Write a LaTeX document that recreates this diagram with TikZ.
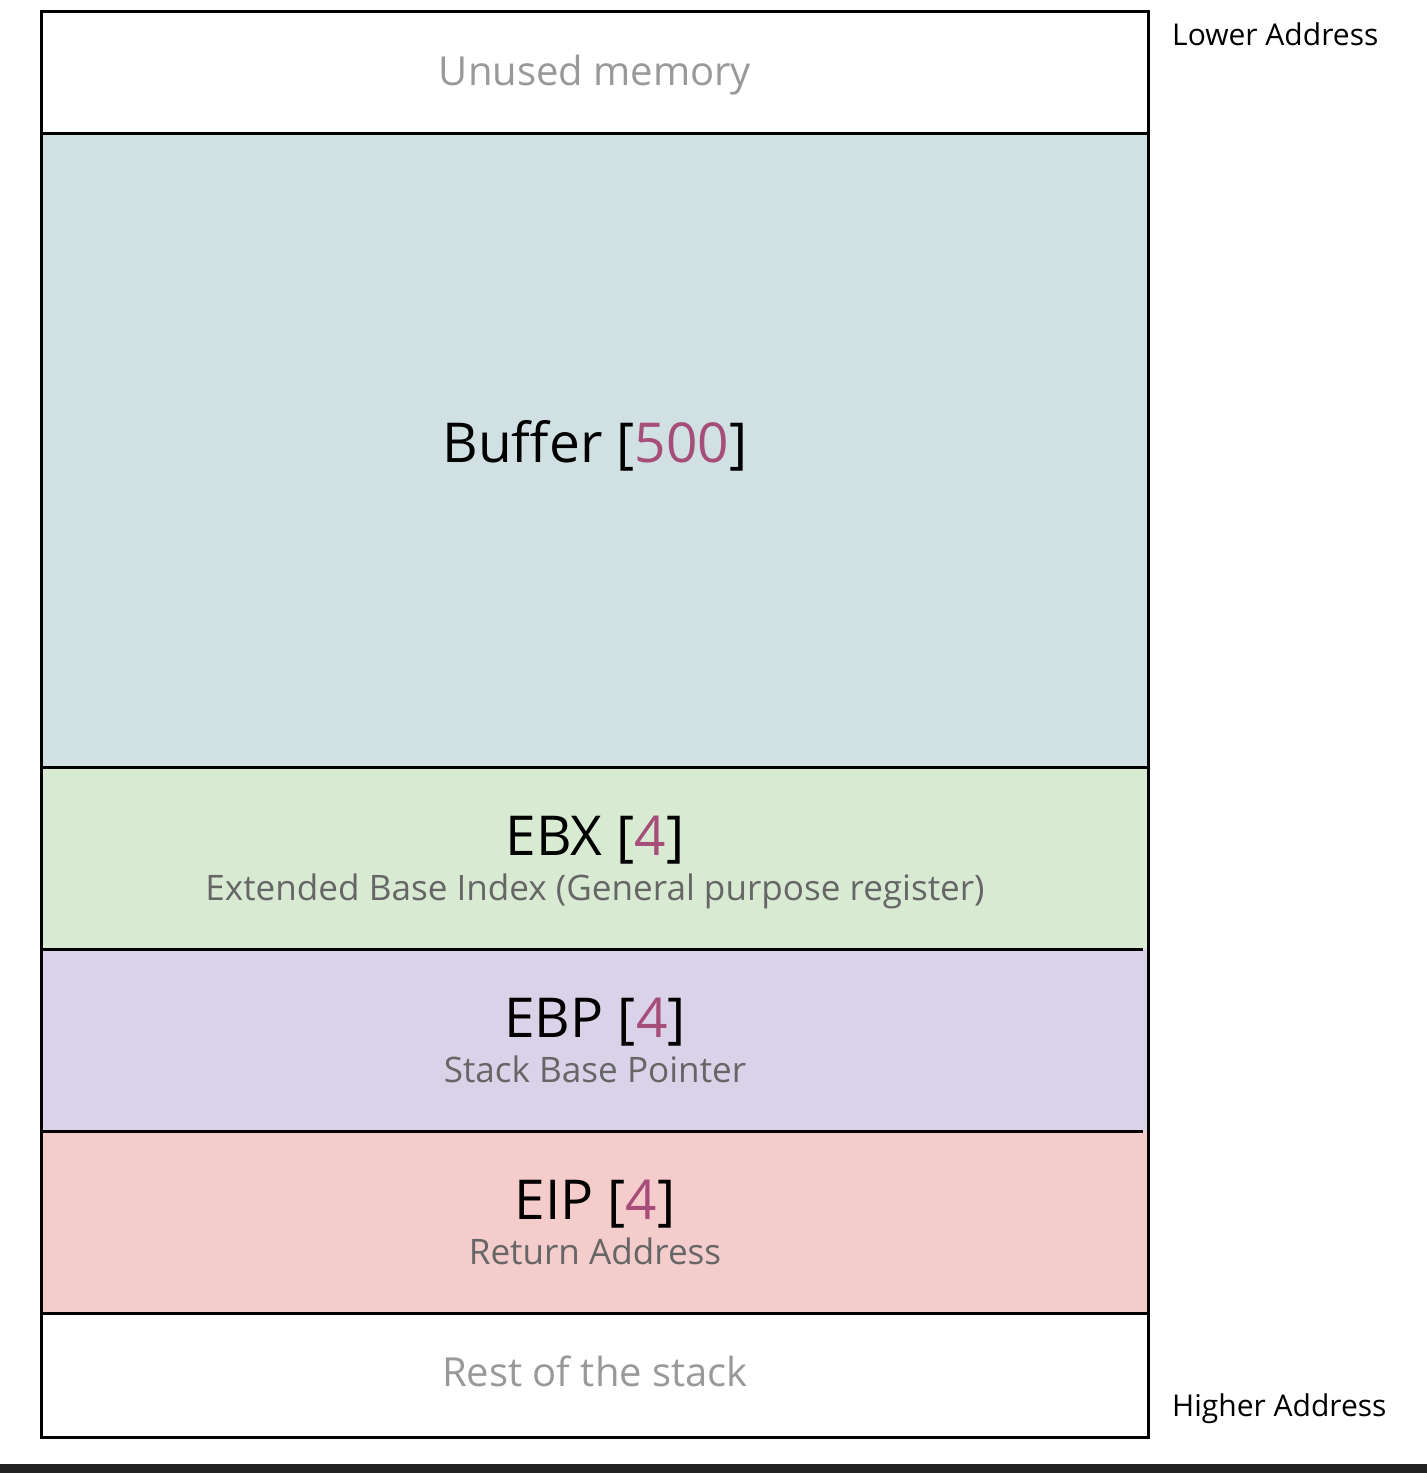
\documentclass[tikz,border=0pt]{standalone}
\usepackage{fontspec}
\setmainfont{Open Sans}
\definecolor{bufc}{HTML}{D0E0E3}
\definecolor{ebxc}{HTML}{D9EAD3}
\definecolor{ebpc}{HTML}{D9D2E9}
\definecolor{eipc}{HTML}{F4CCCC}
\definecolor{numc}{HTML}{A64D79}
\definecolor{lightt}{HTML}{999999}
\definecolor{subt}{HTML}{666666}
\definecolor{barc}{HTML}{222222}
\begin{document}
\begin{tikzpicture}[x=1pt,y=-1pt,
  sep/.style={line width=3pt},
  title/.style={anchor=base,inner sep=0pt,font=\fontsize{55}{60}\selectfont},
  subtitle/.style={anchor=base,inner sep=0pt,text=subt,font=\fontsize{35.1}{40}\selectfont},
  faint/.style={anchor=base,inner sep=0pt,text=lightt,font=\fontsize{40}{46}\selectfont},
  addr/.style={anchor=base west,inner sep=0pt,font=\fontsize{30}{36}\selectfont}]
\useasboundingbox (0,0) rectangle (1427,1473);
\fill[white] (0,0) rectangle (1427,1473);
\fill[barc] (0,1464) rectangle (1427,1473);
% regions
\fill[bufc] (41,133) rectangle (1148,767);
\fill[ebxc] (41,767) rectangle (1148,949);
\fill[ebpc] (41,949) rectangle (1148,1131);
\fill[eipc] (41,1131) rectangle (1148,1313);
% separators
\coordinate (s1l) at (41,133); \coordinate (s1r) at (1148,133);
\coordinate (s2l) at (41,767); \coordinate (s2r) at (1148,767);
\coordinate (s3l) at (41,949); \coordinate (s3r) at (1143,949);
\coordinate (s4l) at (41,1131); \coordinate (s4r) at (1143,1131);
\coordinate (s5l) at (41,1313); \coordinate (s5r) at (1148,1313);
\draw[sep] (s1l) -- (s1r);
\draw[sep] (s2l) -- (s2r);
\draw[sep] (s3l) -- (s3r);
\draw[sep] (s4l) -- (s4r);
\draw[sep] (s5l) -- (s5r);
\draw[sep] (41,11) rectangle (1148,1437);
% texts
\node[faint] (unused) at (595,85) {Unused memory};
\node[title] (buffer) at (595,462) {Buffer [\textcolor{numc}{500}]};
\node[title] (ebx) at (595,855) {EBX [\textcolor{numc}{4}]};
\node[subtitle] (ebxs) at (595,900) {Extended Base Index (General purpose register)};
\node[title] (ebp) at (595,1037) {EBP [\textcolor{numc}{4}]};
\node[subtitle] (ebps) at (595,1082) {Stack Base Pointer};
\node[title] (eip) at (595,1219) {EIP [\textcolor{numc}{4}]};
\node[subtitle] (eips) at (595,1264) {Return Address};
\node[faint] (rest) at (595,1386) {Rest of the stack};
\node[addr] (lower) at (1172,45) {Lower Address};
\node[addr] (higher) at (1172,1416) {Higher Address};
\end{tikzpicture}
\end{document}
